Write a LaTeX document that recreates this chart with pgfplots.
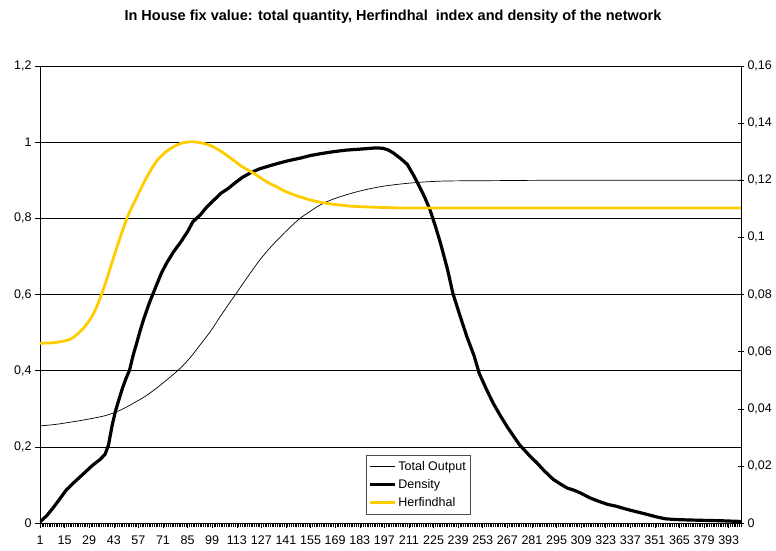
\documentclass[border=0pt]{standalone}
\usepackage{pgfplots}
\pgfplotsset{compat=1.18}
\usepackage{fontspec}
\setmainfont{Liberation Sans}

\definecolor{herf}{RGB}{255,204,0}

\begin{document}
\begin{tikzpicture}
\pgfplotsset{
  every axis/.append style={
    scale only axis, width=701pt, height=457pt,
    xmin=1, xmax=400,
    scaled ticks=false,
    tick label style={font=\fontsize{12.5}{14}\selectfont},
    every tick/.style={black, line width=0.5pt},
  }
}
\begin{axis}[
  ymin=0, ymax=1.2,
  axis line style={black, line width=0.6pt},
  xtick={1,15,29,43,57,71,85,99,113,127,141,155,169,183,197,211,225,239,253,267,281,295,309,323,337,351,365,379,393},
  xticklabels={1,15,29,43,57,71,85,99,113,127,141,155,169,183,197,211,225,239,253,267,281,295,309,323,337,351,365,379,393},
  minor xtick={1,2,...,400},
  ytick={0,0.2,0.4,0.6,0.8,1,1.2},
  yticklabels={0,{0,2},{0,4},{0,6},{0,8},1,{1,2}},
  tick pos=left, tick align=outside,
  major tick length=5pt, minor tick length=4pt,
  xticklabel style={yshift=-4.5pt},
  ymajorgrids, grid style={black, line width=0.6pt},
  legend style={at={(axis description cs:0.465,0.149)}, anchor=north west,
    draw=black!70, fill=white, font=\fontsize{12.5}{15}\selectfont,
    inner xsep=2pt, inner ysep=4pt, row sep=3.5pt},
  legend cell align=left,
  legend image code/.code={\draw[#1] (0pt,0pt) -- (25pt,0pt);},
]
\addplot[black, line width=0.7pt, smooth] coordinates {
(1,0.255) (10,0.259) (20,0.266) (30,0.274) (39,0.283) (47,0.297) (54,0.314)
(61,0.333) (67,0.353) (74,0.379) (81,0.407) (87,0.437) (92,0.467) (98,0.503)
(103,0.538) (108,0.572) (113,0.605) (119,0.645) (126,0.690) (132,0.723)
(138,0.752) (143,0.775) (149,0.800) (155,0.819) (160,0.834) (166,0.847)
(172,0.857) (180,0.868) (187,0.876) (196,0.884) (206,0.890) (218,0.895)
(232,0.898) (260,0.899) (300,0.900) (400,0.900)
};
\addlegendentry{Total Output}
\addplot[black, line width=3.2pt, line join=round] coordinates {
(1,0.003) (5,0.02) (9,0.043) (13,0.068) (16,0.087) (20,0.105) (24,0.122)
(28,0.139) (31,0.152) (35,0.166) (38,0.180) (40,0.205) (42,0.255) (44,0.295)
(46,0.325) (48,0.355) (50,0.380) (52,0.402) (54,0.440) (56,0.472) (58,0.505)
(60,0.535) (63,0.575) (66,0.610) (70,0.655) (73,0.682) (77,0.712) (81,0.737)
(85,0.765) (88,0.791) (92,0.808) (96,0.830) (100,0.848) (104,0.866) (108,0.878)
(112,0.893) (116,0.907) (121,0.920) (126,0.930) (131,0.937) (137,0.945)
(143,0.952) (149,0.958) (155,0.965) (161,0.970) (168,0.975) (175,0.979)
(181,0.981) (187,0.983) (192,0.985) (196,0.984) (199,0.980) (202,0.972)
(206,0.958) (210,0.942) (214,0.910) (217,0.883) (220,0.855) (223,0.822)
(226,0.780) (229,0.734) (233,0.665) (236,0.603) (240,0.545) (244,0.489)
(248,0.440) (251,0.393) (255,0.352) (259,0.314) (263,0.282) (267,0.252)
(271,0.225) (274,0.205) (279,0.180) (284,0.157) (288,0.137) (293,0.115)
(297,0.103) (301,0.092) (305,0.086) (309,0.078) (314,0.066) (319,0.057)
(324,0.049) (329,0.044) (335,0.036) (341,0.029) (347,0.022) (352,0.016)
(357,0.011) (363,0.009) (370,0.008) (378,0.007) (388,0.006) (400,0.004)
};
\addlegendentry{Density}
\addplot[herf, line width=2.8pt, smooth] coordinates {
(1,0.472) (10,0.474) (18,0.482) (22,0.495) (26,0.513) (30,0.538) (33,0.565)
(36,0.600) (39,0.640) (41,0.670) (44,0.713) (47,0.755) (51,0.806) (55,0.845)
(58,0.874) (62,0.910) (67,0.948) (72,0.972) (77,0.988) (82,0.998) (87,1.001)
(92,0.999) (97,0.993) (100,0.987) (105,0.973) (111,0.953) (116,0.936)
(122,0.920) (130,0.896) (136,0.882) (141,0.870) (148,0.858) (155,0.848)
(162,0.841) (168,0.837) (178,0.832) (187,0.830) (200,0.828) (215,0.827)
(300,0.827) (400,0.827)
};
\addlegendentry{Herfindhal}
\end{axis}
\begin{axis}[
  ymin=0, ymax=0.16,
  axis x line=none, axis y line*=right,
  axis line style={black, line width=0.6pt},
  ytick={0,0.02,0.04,0.06,0.08,0.1,0.12,0.14,0.16},
  yticklabels={0,{0,02},{0,04},{0,06},{0,08},{0,1},{0,12},{0,14},{0,16}},
  tick align=center, major tick length=6pt,
]
\addplot[draw=none] coordinates {(1,0) (400,0.16)};
\end{axis}
\node[font=\fontsize{14.5}{17}\selectfont\bfseries] at (353pt,506pt)
  {In House fix value: total quantity, Herfindhal\ \ index and density of the network};
\path[use as bounding box] (-40pt,-27pt) rectangle (736pt,523pt);
\end{tikzpicture}
\end{document}
